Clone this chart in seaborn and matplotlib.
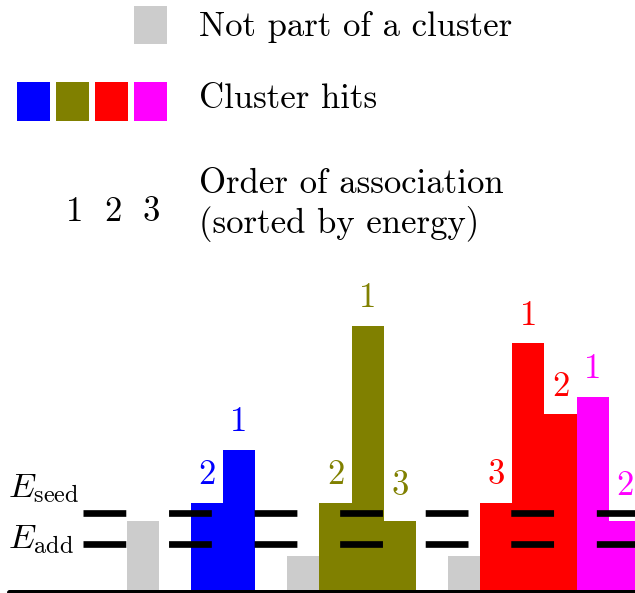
import matplotlib
matplotlib.use("Agg")
import matplotlib.pyplot as plt
from matplotlib.patches import Rectangle
import seaborn as sns
import pandas as pd

# ---- data ----
hit_positions = [0, 2, 3, 5, 6, 7, 8, 10, 11, 12, 13, 14, 15]
hit_energies = [4, 5, 8, 2, 5, 15, 4, 2, 5, 14, 10, 11, 4]
hit_groups = ["none", "blue", "blue", "none", "olive", "olive", "olive",
              "none", "red", "red", "red", "magenta", "magenta"]
hit_order = ["", "2", "1", "", "2", "1", "3", "", "3", "1", "2", "1", "2"]
E_seed = 4.42
E_add = 2.67
legend_texts = ["Not part of a cluster", "Cluster hits",
                "Order of association", "(sorted by energy)"]
order_numbers = ["1", "2", "3"]

palette = {"none": "#cccccc", "blue": "#0000ff", "olive": "#808000",
           "red": "#ff0000", "magenta": "#ff00ff"}
cluster_colors = ["blue", "olive", "red", "magenta"]

sns.set_style("white")
plt.rcParams["mathtext.fontset"] = "cm"
plt.rcParams["lines.scale_dashes"] = False
plt.rcParams["text.color"] = "black"
TXT = "cmr10"
FS = 25

W, H = 635, 593
fig = plt.figure(figsize=(W / 100, H / 100), dpi=100)
ax = fig.add_axes([0, 0, 1, 1])

df = pd.DataFrame({"pos": hit_positions, "energy": hit_energies,
                   "group": hit_groups, "order": hit_order})
sns.barplot(data=df, x="pos", y="energy", hue="group", palette=palette,
            native_scale=True, width=1, dodge=False, legend=False,
            saturation=1, errorbar=None, linewidth=0, edgecolor="none", ax=ax)

ax.set_xlim(-4.435, 15.316)
ax.set_ylim(-0.079, 33.37)
ax.set_axis_off()

# threshold lines (dashed)
ax.hlines([E_seed, E_add], xmin=-1.845, xmax=15.4, colors="black",
          linewidth=4.8, linestyles=[(0, (30.8, 30.8))], zorder=3)
# base line
ax.axhline(0, xmin=9 / W, xmax=1, color="black", lw=3.6, zorder=4)

# order labels above bars
for p, e, g, o in zip(hit_positions, hit_energies, hit_groups, hit_order):
    if o:
        ax.text(p, max(e, E_seed) + 1.05, o, color=palette[g], fontsize=FS,
                family=TXT, ha="center", va="baseline")

def fx(px):
    return px / W

def fy(py):
    return 1 - py / H

# threshold labels
ax.text(fx(8), fy(497), r"$E_{\mathrm{seed}}$", fontsize=FS, ha="left",
        va="baseline", color="black", transform=ax.transAxes)
ax.text(fx(8), fy(548), r"$E_{\mathrm{add}}$", fontsize=FS, ha="left",
        va="baseline", color="black", transform=ax.transAxes)

# legend
def rect(x0, y0, x1, y1, color):
    ax.add_patch(Rectangle((fx(x0), fy(y1)), fx(x1) - fx(x0), fy(y0) - fy(y1),
                           transform=ax.transAxes, color=color, lw=0,
                           clip_on=False))

rect(134, 6, 166.7, 44.3, palette["none"])
for i, c in enumerate(cluster_colors):
    x0 = 17.3 + 38.9 * i
    rect(x0, 82, x0 + 32.7, 120.7, palette[c])
for i, n in enumerate(order_numbers):
    ax.text(fx(74.5 + 38.5 * i), fy(220.7), n, fontsize=FS, family=TXT,
            color="black", ha="center", va="baseline", transform=ax.transAxes)

for txt, yb in zip(legend_texts, [36, 107.7, 192.7, 233.3]):
    ax.text(fx(199), fy(yb), txt, fontsize=FS, family=TXT, ha="left",
            color="black", va="baseline", transform=ax.transAxes)

fig.savefig("out.png", dpi=100)
